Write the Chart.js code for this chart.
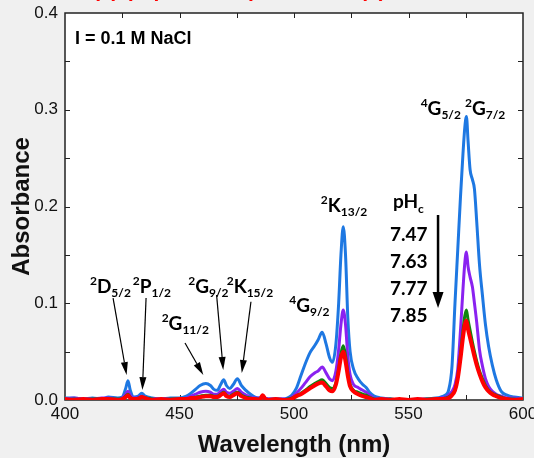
<!DOCTYPE html>
<html>
<head>
<meta charset="utf-8">
<script src="https://cdn.jsdelivr.net/npm/chart.js@4"></script>
<style>
  body { margin: 0; background: #f0f0f0; }
  canvas { display: block; }
</style>
</head>
<body>
<canvas id="specChart" width="534" height="458"></canvas>
<script>
// Wavelength grid (nm), shared by all spectra
const wavelengths = [
  400, 404, 408, 412, 416, 419, 423, 425, 426.5, 427.5,
  428.5, 430, 432, 433.5, 435, 438, 442, 446, 450, 453,
  455, 457, 459, 461.5, 463.5, 465, 466.5, 468, 469.3, 470.5,
  472, 473.5, 475.3, 477, 479, 481, 483, 485, 486.3, 487.5,
  489, 492, 495, 497, 499, 501, 503, 505, 507, 509,
  510.5, 512.3, 514, 515.5, 516.8, 518.3, 519.5, 520.5, 521.5, 522.5,
  523.5, 524.5, 526, 528, 530, 531.5, 533, 535, 538, 542,
  546, 550, 554, 558, 562, 564, 566, 567.5, 569, 570.3,
  571.5, 572.7, 573.8, 574.6, 575.3, 576, 576.9, 577.9, 578.8, 579.8,
  581, 582.3, 583.6, 585, 586.6, 588.3, 590.5, 593, 596, 600
];

// Absorbance at each pHc
const abs747 = [
  0.002, 0.002, 0.001, 0.002, 0.001, 0.003, 0.002, 0.003, 0.012, 0.020,
  0.010, 0.003, 0.004, 0.007, 0.004, 0.002, 0.001, 0.002, 0.002, 0.004,
  0.007, 0.011, 0.015, 0.017, 0.015, 0.011, 0.010, 0.016, 0.021, 0.015,
  0.012, 0.016, 0.022, 0.015, 0.010, 0.006, 0.003, 0.002, 0.003, 0.002,
  0.001, 0.001, 0.001, 0.002, 0.005, 0.012, 0.025, 0.038, 0.049, 0.056,
  0.062, 0.070, 0.058, 0.044, 0.039, 0.058, 0.100, 0.150, 0.179, 0.150,
  0.085, 0.050, 0.032, 0.022, 0.016, 0.013, 0.008, 0.004, 0.002, 0.001,
  0.000, 0.000, 0.000, 0.001, 0.002, 0.003, 0.005, 0.010, 0.035, 0.100,
  0.155, 0.210, 0.255, 0.282, 0.293, 0.268, 0.238, 0.228, 0.218, 0.184,
  0.140, 0.108, 0.078, 0.055, 0.036, 0.021, 0.009, 0.005, 0.003, 0.002
];
const abs763 = [
  0.001, 0.002, 0.001, 0.001, 0.002, 0.002, 0.001, 0.002, 0.006, 0.009,
  0.005, 0.002, 0.003, 0.004, 0.002, 0.001, 0.001, 0.001, 0.001, 0.002,
  0.004, 0.006, 0.008, 0.009, 0.008, 0.006, 0.006, 0.009, 0.011, 0.008,
  0.007, 0.009, 0.012, 0.008, 0.005, 0.003, 0.002, 0.002, 0.003, 0.002,
  0.001, 0.001, 0.001, 0.001, 0.003, 0.007, 0.012, 0.018, 0.024, 0.028,
  0.030, 0.034, 0.028, 0.022, 0.020, 0.030, 0.052, 0.078, 0.093, 0.078,
  0.045, 0.026, 0.016, 0.013, 0.010, 0.008, 0.005, 0.002, 0.001, 0.001,
  0.000, 0.000, 0.001, 0.001, 0.001, 0.002, 0.003, 0.005, 0.009, 0.016,
  0.032, 0.072, 0.115, 0.142, 0.153, 0.138, 0.127, 0.117, 0.100, 0.080,
  0.052, 0.035, 0.022, 0.014, 0.009, 0.006, 0.004, 0.002, 0.002, 0.001
];
const abs777 = [
  0.000, 0.001, 0.000, 0.001, 0.001, 0.001, 0.001, 0.001, 0.004, 0.006,
  0.003, 0.001, 0.002, 0.003, 0.002, 0.001, 0.000, 0.001, 0.001, 0.001,
  0.002, 0.003, 0.004, 0.005, 0.005, 0.004, 0.004, 0.006, 0.008, 0.005,
  0.004, 0.006, 0.008, 0.005, 0.003, 0.002, 0.001, 0.001, 0.004, 0.001,
  0.000, 0.001, 0.000, 0.001, 0.002, 0.004, 0.007, 0.010, 0.014, 0.017,
  0.019, 0.021, 0.017, 0.013, 0.012, 0.018, 0.032, 0.048, 0.056, 0.046,
  0.028, 0.016, 0.010, 0.008, 0.006, 0.005, 0.003, 0.001, 0.000, 0.001,
  0.000, 0.000, 0.000, 0.001, 0.001, 0.001, 0.002, 0.003, 0.006, 0.010,
  0.024, 0.048, 0.072, 0.087, 0.093, 0.083, 0.072, 0.060, 0.050, 0.040,
  0.030, 0.022, 0.015, 0.010, 0.007, 0.005, 0.003, 0.001, 0.001, 0.000
];
const abs785 = [
  0.001, 0.000, 0.001, 0.000, 0.001, 0.001, 0.000, 0.001, 0.003, 0.005,
  0.002, 0.001, 0.001, 0.003, 0.002, 0.000, 0.001, 0.000, 0.001, 0.001,
  0.002, 0.002, 0.003, 0.004, 0.004, 0.003, 0.003, 0.005, 0.007, 0.004,
  0.003, 0.005, 0.007, 0.004, 0.002, 0.001, 0.001, 0.000, 0.005, 0.001,
  0.000, 0.001, 0.000, 0.000, 0.001, 0.004, 0.006, 0.009, 0.012, 0.015,
  0.017, 0.018, 0.014, 0.010, 0.009, 0.016, 0.030, 0.044, 0.050, 0.040,
  0.025, 0.014, 0.009, 0.006, 0.004, 0.003, 0.002, 0.000, 0.001, 0.000,
  0.001, 0.000, 0.001, 0.000, 0.001, 0.001, 0.001, 0.002, 0.005, 0.010,
  0.022, 0.043, 0.065, 0.078, 0.082, 0.073, 0.064, 0.054, 0.045, 0.036,
  0.027, 0.019, 0.013, 0.009, 0.006, 0.004, 0.002, 0.001, 0.000, 0.001
];

const xTicks = [400, 450, 500, 550, 600];
const yTicks = [0.0, 0.1, 0.2, 0.3, 0.4];
const pHcLabels = ['7.47', '7.63', '7.77', '7.85'];

// band labels: [wavelength, absorbance, superscript, letter, subscript]
const bandLabels = [
  [410.9, 0.1106, '2', 'D', '5/2'],
  [429.6, 0.1106, '2', 'P', '1/2'],
  [442.2, 0.0724, '2', 'G', '11/2'],
  [453.8, 0.1106, '2', 'G', '9/2'],
  [470.6, 0.1106, '2', 'K', '15/2'],
  [497.9, 0.0910, '4', 'G', '9/2'],
  [511.7, 0.1943, '2', 'K', '13/2'],
  [555.3, 0.2946, '4', 'G', '5/2'],
  [574.7, 0.2946, '2', 'G', '7/2']
];
// arrows: [from wl, from abs, to wl, to abs]
const bandArrows = [
  [421.0, 0.1054, 426.9, 0.0258],
  [435.4, 0.1054, 433.8, 0.0103],
  [452.4, 0.0589, 460.4, 0.0258],
  [466.2, 0.1085, 469.1, 0.0310],
  [481.2, 0.1016, 477.2, 0.0279]
];

function series(vals) {
  return vals.map((v, i) => ({ x: wavelengths[i], y: v }));
}

function arrow(ctx, x1, y1, x2, y2, headLen, headW) {
  const ang = Math.atan2(y2 - y1, x2 - x1);
  const bx = x2 - headLen * Math.cos(ang), by = y2 - headLen * Math.sin(ang);
  ctx.beginPath();
  ctx.moveTo(x1, y1);
  ctx.lineTo(bx, by);
  ctx.stroke();
  ctx.beginPath();
  ctx.moveTo(x2, y2);
  ctx.lineTo(bx + headW / 2 * Math.sin(ang), by - headW / 2 * Math.cos(ang));
  ctx.lineTo(bx - headW / 2 * Math.sin(ang), by + headW / 2 * Math.cos(ang));
  ctx.closePath();
  ctx.fill();
}

const framePlugin = {
  id: 'frame',
  beforeDraw(chart) {
    const { ctx, chartArea: a } = chart;
    ctx.save();
    ctx.fillStyle = '#f0f0f0';
    ctx.fillRect(0, 0, chart.width, chart.height);
    ctx.fillStyle = '#fff';
    ctx.fillRect(a.left, a.top, a.right - a.left, a.bottom - a.top);
    // cut-off red heading above the axes (only its lowest part shows)
    ctx.fillStyle = '#ff0000';
    ctx.font = 'bold 21px "Liberation Sans", Arial';
    ctx.textBaseline = 'alphabetic';
    ctx.fillText('Np(V) spectra of pHc series (a) in NaCl', 80, -3);
    ctx.restore();
  },
  beforeDatasetsDraw(chart) {
    const { ctx, chartArea: a, scales: { x, y } } = chart;
    ctx.save();
    ctx.strokeStyle = '#222';
    ctx.lineWidth = 1.5;
    ctx.strokeRect(a.left, a.top, a.right - a.left, a.bottom - a.top);
    ctx.lineWidth = 1;
    ctx.beginPath();
    for (let w = 425; w < 600; w += 25) {
      const px = Math.round(x.getPixelForValue(w)) + 0.5;
      ctx.moveTo(px, a.bottom); ctx.lineTo(px, a.bottom - 5);
      ctx.moveTo(px, a.top); ctx.lineTo(px, a.top + 5);
    }
    for (let k = 1; k < 8; k++) {
      const py = Math.round(y.getPixelForValue(k * 0.05)) + 0.5;
      ctx.moveTo(a.left, py); ctx.lineTo(a.left + 5, py);
      ctx.moveTo(a.right, py); ctx.lineTo(a.right - 5, py);
    }
    ctx.stroke();
    ctx.restore();
  },
  afterDatasetsDraw(chart) {
    const { ctx, scales: { x, y } } = chart;
    ctx.save();
    ctx.fillStyle = '#000';
    ctx.strokeStyle = '#000';
    ctx.textBaseline = 'alphabetic';
    ctx.textAlign = 'left';

    ctx.font = 'bold 18px "Liberation Sans", Arial';
    ctx.fillText('I = 0.1 M NaCl', x.getPixelForValue(404.4), y.getPixelForValue(0.368));

    bandLabels.forEach(([wl, ab, sup, main, sub]) => {
      let px = x.getPixelForValue(wl);
      const py = y.getPixelForValue(ab);
      ctx.font = 'bold 12px Lato';
      ctx.fillText(sup, px, py - 8);
      px += ctx.measureText(sup).width;
      ctx.font = 'bold 19px Lato';
      ctx.fillText(main, px, py);
      px += ctx.measureText(main).width;
      ctx.font = 'bold 12px Lato';
      ctx.fillText(sub, px, py + 4);
    });

    ctx.lineWidth = 1.2;
    bandArrows.forEach(([w1, a1, w2, a2]) => {
      arrow(ctx, x.getPixelForValue(w1), y.getPixelForValue(a1),
        x.getPixelForValue(w2), y.getPixelForValue(a2), 13, 7);
    });

    // pHc legend
    ctx.font = 'bold 19px Lato';
    ctx.fillText('pH', x.getPixelForValue(543.2), y.getPixelForValue(0.1984));
    const pw = ctx.measureText('pH').width;
    ctx.font = 'bold 12px Lato';
    ctx.fillText('c', x.getPixelForValue(543.2) + pw, y.getPixelForValue(0.1984) + 5);
    ctx.font = 'bold 19px Lato';
    const numY = [0.1643, 0.1364, 0.1085, 0.0806];
    pHcLabels.forEach((t, i) => {
      ctx.fillText(t, x.getPixelForValue(541.9), y.getPixelForValue(numY[i]));
    });
    ctx.lineWidth = 2.5;
    arrow(ctx, x.getPixelForValue(562.9), y.getPixelForValue(0.1912),
      x.getPixelForValue(562.9), y.getPixelForValue(0.0951), 16, 11);
    ctx.restore();
  }
};

const ctx = document.getElementById('specChart').getContext('2d');
const specChart = new Chart(ctx, {
  type: 'line',
  data: {
    datasets: [
      { label: '7.47', data: series(abs747), borderColor: '#1e78e2', borderWidth: 3, order: 4 },
      { label: '7.63', data: series(abs763), borderColor: '#8a22f0', borderWidth: 3, order: 3 },
      { label: '7.77', data: series(abs777), borderColor: '#0e850e', borderWidth: 3, order: 2 },
      { label: '7.85', data: series(abs785), borderColor: '#ff0000', borderWidth: 4, order: 1 }
    ]
  },
  options: {
    responsive: false,
    animation: false,
    layout: { padding: { top: 13, right: 11, left: 0, bottom: 0 } },
    elements: {
      point: { radius: 0 },
      line: { cubicInterpolationMode: 'monotone', borderJoinStyle: 'round', borderCapStyle: 'round' }
    },
    plugins: { legend: { display: false }, tooltip: { enabled: false } },
    scales: {
      x: {
        type: 'linear',
        min: 400,
        max: 600,
        afterBuildTicks: s => { s.ticks = xTicks.map(v => ({ value: v })); },
        afterFit: s => { s.height = 58; s.paddingLeft = 0; s.paddingRight = 0; },
        grid: { display: false, drawTicks: false },
        border: { display: false },
        ticks: {
          color: '#111',
          padding: 4,
          maxRotation: 0,
          font: { family: '"Liberation Sans", Arial', size: 17 }
        },
        title: {
          display: true,
          text: 'Wavelength (nm)',
          color: '#111',
          padding: { top: 0, bottom: 1 },
          font: { family: '"Liberation Sans", Arial', size: 24, weight: 'bold', lineHeight: 1 }
        }
      },
      y: {
        min: 0,
        max: 0.4,
        afterBuildTicks: s => { s.ticks = yTicks.map(v => ({ value: v })); },
        afterFit: s => { s.width = 65; s.paddingTop = 0; s.paddingBottom = 0; },
        grid: { display: false, drawTicks: false },
        border: { display: false },
        ticks: {
          color: '#111',
          padding: 7,
          callback: v => v.toFixed(1),
          font: { family: '"Liberation Sans", Arial', size: 17 }
        },
        title: {
          display: true,
          text: 'Absorbance',
          color: '#111',
          padding: { top: 10, bottom: 0 },
          font: { family: '"Liberation Sans", Arial', size: 24, weight: 'bold', lineHeight: 1 }
        }
      }
    }
  },
  plugins: [framePlugin]
});
</script>
</body>
</html>
